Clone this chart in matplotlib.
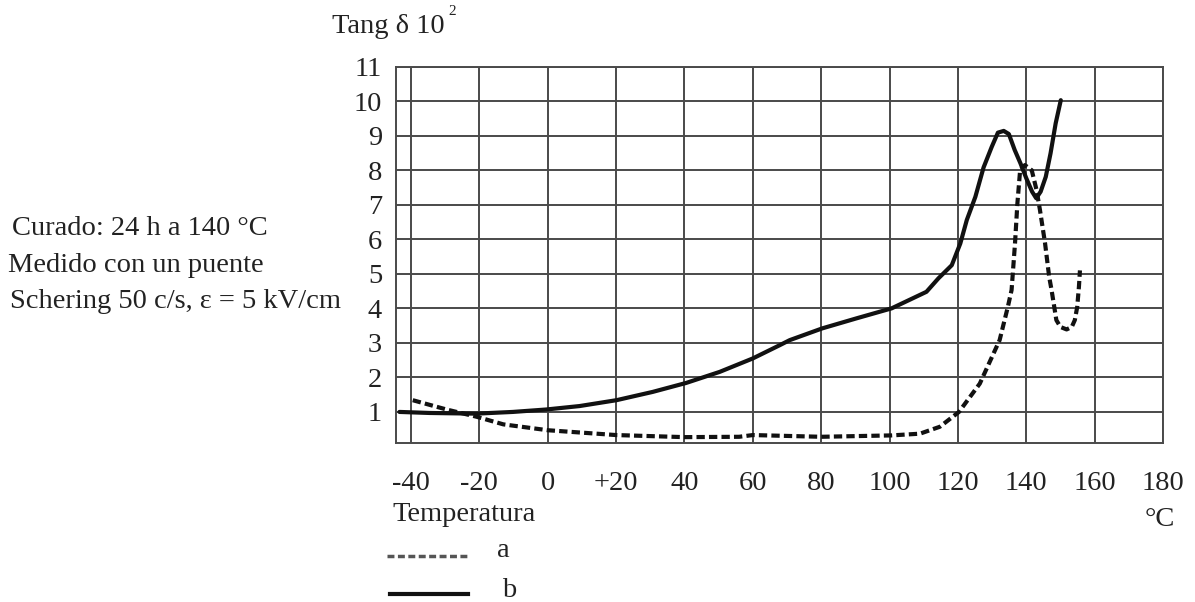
import matplotlib
matplotlib.use('Agg')
import matplotlib.pyplot as plt
from matplotlib.lines import Line2D

plt.rcParams['font.family'] = ['Liberation Serif', 'DejaVu Serif']

# curva a (punteada)
temp_a = [-39.5, -29.6, -20.8, -13, 0, 20, 40, 56, 60, 80, 100.6, 108.9, 114.7,
          120.3, 126.4, 132.2, 134.6, 135.7, 136.7, 137.4, 138.2, 139.6, 141.6, 143.0,
          144.0, 145.5, 146.7, 147.4, 148.8, 150.0, 151.8, 153.3, 154.2, 154.9, 155.4, 155.7]
tan_a = [1.34, 1.07, 0.86, 0.64, 0.47, 0.33, 0.27, 0.28, 0.33, 0.28, 0.32, 0.37, 0.57,
         1.0, 1.82, 3.08, 4.04, 4.53, 5.88, 7.04, 8.0, 8.15, 8.0, 7.43,
         6.85, 5.88, 4.91, 4.53, 3.66, 3.46, 3.39, 3.46, 3.66, 4.04, 4.62, 5.1]

# curva b (continua)
temp_b = [-43.4, -34.6, -21.0, -10.2, -0.5, 9.3, 20.1, 30.7, 40.5, 50.3, 60.0, 67.8,
          70.8, 80.3, 90.3, 100.6, 110.8, 114.3, 118.2, 120.7, 122.6, 125.1, 127.5, 129.9,
          131.7, 133.4, 134.9, 136.6, 138.3, 140.0, 141.7, 142.9, 144.2, 145.7, 147.1,
          148.6, 150.1]
tan_b = [1.0, 0.97, 0.95, 1.0, 1.07, 1.17, 1.34, 1.58, 1.84, 2.16, 2.55, 2.93,
         3.08, 3.42, 3.71, 4.0, 4.48, 4.87, 5.25, 5.88, 6.56, 7.23, 8.08, 8.68,
         9.09, 9.14, 9.05, 8.59, 8.2, 7.77, 7.38, 7.19, 7.38, 7.81, 8.49,
         9.36, 10.03]

x_ticks = [-40, -20, 0, 20, 40, 60, 80, 100, 120, 140, 160, 180]
x_labels = ['-40', '-20', '0', '+20', '40', '60', '80', '100', '120', '140', '160', '180']
y_ticks = [1, 2, 3, 4, 5, 6, 7, 8, 9, 10, 11]

W, H = 1195, 602
fig = plt.figure(figsize=(W / 100, H / 100), dpi=100)
ax = fig.add_axes([396 / W, 1 - 443 / H, (1163 - 396) / W, (443 - 66.7) / H])

grid_col = '#4a4a4a'
fs = 20.5
ax.set_xlim(-44.4, 180)
ax.set_ylim(0.1, 11)
ax.set_xticks(x_ticks)
ax.set_xticklabels(x_labels)
ax.set_yticks(y_ticks)
ax.tick_params(length=0, labelsize=fs, colors='#222222')
ax.tick_params(axis='x', pad=20)
ax.tick_params(axis='y', pad=10)
ax.grid(True, color=grid_col, lw=1.4)
for s in ax.spines.values():
    s.set_color(grid_col)
    s.set_linewidth(1.4)

ax.plot(temp_a, tan_a, color='#111111', lw=3, ls=(0, (2, 1)), dash_capstyle='butt')
ax.plot(temp_b, tan_b, color='#111111', lw=3, solid_capstyle='round')


def px(x, y):
    return x / W, 1 - y / H


fig.text(*px(332, 33), 'Tang δ 10', fontsize=fs, color='#222222', va='baseline')
fig.text(*px(448, 15), '2', fontsize=11, color='#222222', va='baseline')

fig.text(*px(12, 235), 'Curado: 24 h a 140 °C', fontsize=fs, color='#222222', va='baseline')
fig.text(*px(8, 272), 'Medido con un puente', fontsize=fs, color='#222222', va='baseline')
fig.text(*px(10, 308), 'Schering 50 c/s, ε = 5 kV/cm', fontsize=fs, color='#222222', va='baseline')

fig.text(*px(392, 521), 'Temperatura', fontsize=fs, color='#222222', va='baseline')
fig.text(*px(1145, 526), '°C', fontsize=fs, color='#222222', va='baseline')

fig.add_artist(Line2D([387 / W, 467 / W], [1 - 556 / H] * 2, color='#555555', lw=2.5,
                      ls=(0, (2, 1)), dash_capstyle='butt'))
fig.text(*px(497, 557), 'a', fontsize=fs, color='#222222', va='baseline')
fig.add_artist(Line2D([390 / W, 468 / W], [1 - 594 / H] * 2, color='#111111', lw=3))
fig.text(*px(502, 597), 'b', fontsize=fs, color='#222222', va='baseline')

fig.savefig('out.png', dpi=100)
